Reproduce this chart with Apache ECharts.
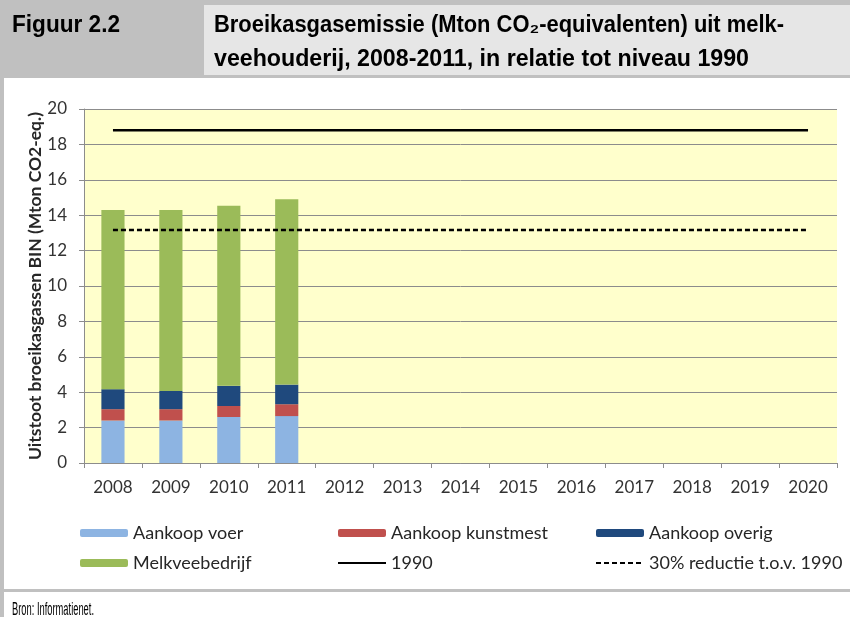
<!DOCTYPE html>
<html>
<head>
<meta charset="utf-8">
<script src="https://cdn.jsdelivr.net/npm/echarts@6/dist/echarts.min.js"></script>
<style>
html,body{margin:0;padding:0;background:#fff;}
#c{width:850px;height:617px;}
</style>
</head>
<body>
<div id="c"></div>
<script>
const years = ['2008','2009','2010','2011','2012','2013','2014','2015','2016','2017','2018','2019','2020'];
const aankoopVoer = [2.40, 2.40, 2.60, 2.65];
const aankoopKunstmest = [0.64, 0.64, 0.62, 0.67];
const aankoopOverig = [1.13, 1.03, 1.14, 1.11];
const melkveebedrijf = [10.12, 10.22, 10.18, 10.47];
const niveau1990 = [18.8, 18.8, 18.8, 18.8, 18.8, 18.8, 18.8, 18.8, 18.8, 18.8, 18.8, 18.8, 18.8];
const reductie30 = [13.16, 13.16, 13.16, 13.16, 13.16, 13.16, 13.16, 13.16, 13.16, 13.16, 13.16, 13.16, 13.16];
const yTicks = { min: 0, max: 20, interval: 2 };

const headFont = '"Liberation Sans", Arial, sans-serif';
const chartFont = 'Lato, "Open Sans", sans-serif';
const gray = '#8c8c8c';

// horizontal fit of condensed header texts
const mctx = document.createElement('canvas').getContext('2d');
function fitScale(text, font, width) {
  mctx.font = font;
  return width / mctx.measureText(text).width;
}
function headText(text, font, x0, x1, yMid) {
  return { type: 'text', x: x0, y: yMid, scaleX: fitScale(text, font, x1 - x0), silent: true,
    style: { text: text, font: font, fill: '#000', align: 'left', verticalAlign: 'middle' } };
}

const t1 = 'Broeikasgasemissie (Mton CO\u2082-equivalenten) uit melk-';
const t2 = 'veehouderij, 2008-2011, in relatie tot niveau 1990';

const chart = echarts.init(document.getElementById('c'));
const legendText = { fontFamily: chartFont, fontSize: 18, lineHeight: 18, color: '#262626' };
const hideSym = { opacity: 0 };
chart.setOption({
  backgroundColor: '#ffffff',
  animation: false,
  grid: { left: 84, right: 13, top: 109, bottom: 154, show: true, backgroundColor: '#FFFFCC', borderWidth: 0 },
  legend: [
    { left: 75, top: 519, orient: 'vertical', itemWidth: 48, itemHeight: 8, itemGap: 12, textStyle: legendText,
      data: ['Aankoop voer', 'Melkveebedrijf'] },
    { left: 332, top: 519, orient: 'vertical', itemWidth: 48, itemHeight: 8, itemGap: 12, textStyle: legendText,
      data: ['Aankoop kunstmest', { name: '1990', itemStyle: hideSym }] },
    { left: 590, top: 519, orient: 'vertical', itemWidth: 48, itemHeight: 8, itemGap: 12, textStyle: legendText,
      data: ['Aankoop overig', { name: '30% reductie t.o.v. 1990', itemStyle: hideSym }] }
  ],
  xAxis: {
    type: 'category', data: years,
    axisLine: { lineStyle: { color: gray } },
    axisTick: { show: true, length: 5, lineStyle: { color: gray } },
    axisLabel: { fontFamily: chartFont, fontSize: 17, color: '#333', margin: 16 }
  },
  yAxis: {
    type: 'value', min: yTicks.min, max: yTicks.max, interval: yTicks.interval,
    name: 'Uitstoot broeikasgassen BIN (Mton CO2-eq.)', nameLocation: 'middle', nameGap: 40,
    nameMoveOverlap: false,
    nameTextStyle: { fontFamily: chartFont, fontSize: 17.5, fontWeight: 'bold', color: '#262626' },
    axisLine: { show: true, lineStyle: { color: gray } },
    axisTick: { show: true, length: 5, lineStyle: { color: gray } },
    splitLine: { lineStyle: { color: gray, width: 1 } },
    axisLabel: { fontFamily: chartFont, fontSize: 17, color: '#333', margin: 17 }
  },
  series: [
    { name: 'Aankoop voer', type: 'bar', stack: 'tot', barWidth: '40%', data: aankoopVoer, itemStyle: { color: '#8DB4E2' } },
    { name: 'Aankoop kunstmest', type: 'bar', stack: 'tot', data: aankoopKunstmest, itemStyle: { color: '#C0504D' } },
    { name: 'Aankoop overig', type: 'bar', stack: 'tot', data: aankoopOverig, itemStyle: { color: '#1F497D' } },
    { name: 'Melkveebedrijf', type: 'bar', stack: 'tot', data: melkveebedrijf, itemStyle: { color: '#9BBB59' } },
    { name: '1990', type: 'line', data: niveau1990, symbol: 'none', itemStyle: { color: '#000' },
      lineStyle: { color: '#000', width: 2.5 } },
    { name: '30% reductie t.o.v. 1990', type: 'line', data: reductie30, symbol: 'none', itemStyle: { color: '#000' },
      lineStyle: { color: '#000', width: 2.5, type: [5, 3] } }
  ],
  graphic: [
    { type: 'rect', shape: { x: 0, y: 0, width: 850, height: 78 }, style: { fill: '#C0C0C0' }, silent: true },
    { type: 'rect', shape: { x: 204, y: 5, width: 646, height: 70 }, style: { fill: '#E6E6E6' }, silent: true },
    { type: 'rect', shape: { x: 0, y: 78, width: 4, height: 539 }, style: { fill: '#C0C0C0' }, silent: true },
    { type: 'rect', shape: { x: 0, y: 589, width: 850, height: 3 }, style: { fill: '#C0C0C0' }, silent: true },
    headText('Figuur 2.2', 'bold 24px ' + headFont, 12, 120, 25.6),
    headText(t1, 'bold 23px ' + headFont, 214, 784, 25.9),
    headText(t2, 'bold 23px ' + headFont, 214, 749, 59.9),
    headText('Bron: Informatienet.', '18px ' + headFont, 12, 94, 610)
  ]
});
</script>
</body>
</html>
